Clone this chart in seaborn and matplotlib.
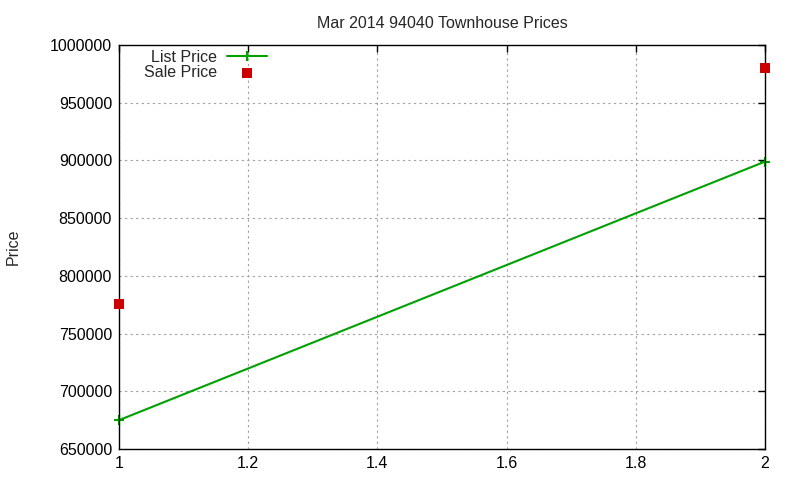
import matplotlib
matplotlib.use("Agg")
import matplotlib.pyplot as plt
import seaborn as sns
import pandas as pd
from matplotlib.ticker import FuncFormatter, MultipleLocator

# data
listing = [1, 2]
list_price = [675000, 899000]
sale_price = [776000, 980000]

sns.set_theme(style="white")
plt.rcParams['font.family'] = ['Liberation Sans', 'DejaVu Sans']

df = pd.DataFrame({"n": listing, "list": list_price, "sale": sale_price})

fig = plt.figure(figsize=(8, 4.8), dpi=100)
ax = fig.add_axes([0.14875, 0.0646, 0.8075, 0.8416])

sns.lineplot(data=df, x="n", y="list", ax=ax, color="#00a000", linewidth=1.5,
             marker="+", markersize=7, markeredgewidth=1.5,
             markeredgecolor="#00a000", label="List Price", clip_on=False)
sns.scatterplot(data=df, x="n", y="sale", ax=ax, color="#cc0000", marker="s",
                s=50, linewidth=0, label="Sale Price", clip_on=False, zorder=5)

ax.set_xlim(1, 2)
ax.set_ylim(650000, 1000000)
ax.xaxis.set_major_locator(MultipleLocator(0.2))
ax.yaxis.set_major_locator(MultipleLocator(50000))
ax.xaxis.set_major_formatter(FuncFormatter(lambda v, p: f"{v:g}"))
ax.yaxis.set_major_formatter(FuncFormatter(lambda v, p: f"{v:.0f}"))

ax.grid(True, color="#a0a0a0", linestyle=(0, (2, 3)), linewidth=0.8)
ax.tick_params(direction="in", length=5, width=1, top=True, right=True,
               labelsize=11.5, colors="black", pad=5)
for s in ax.spines.values():
    s.set_color("black")
    s.set_linewidth(1)

ax.set_xlabel("")
ax.set_ylabel("")
ax.set_title("Mar 2014 94040 Townhouse Prices", fontsize=11.5, pad=12)
fig.text(0.016, 0.485, "Price", rotation=90, fontsize=11.5, va="center", ha="center")

leg = ax.legend(loc="upper left", bbox_to_anchor=(0.024, 1.012), frameon=False,
                markerfirst=False, fontsize=11.5, handlelength=2.5,
                labelspacing=0.0, borderaxespad=0.2, handletextpad=0.6)
for t in leg.get_texts():
    t.set_ha("right")

fig.savefig("out.png", dpi=100)
